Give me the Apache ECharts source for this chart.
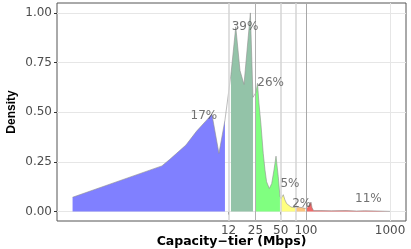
<!DOCTYPE html>
<html><head><meta charset="utf-8">
<script src="https://cdn.jsdelivr.net/npm/echarts@6/dist/echarts.min.js"></script>
<style>html,body{margin:0;padding:0;background:#fff}#c{width:411px;height:249px}</style>
</head><body><div id="c"></div>
<script>
// Tick labels
const xTicks = [12, 25, 50, 100, 1000];
const yTicks = [0, 0.25, 0.5, 0.75, 1.0];
// Tier boundaries (vertical reference lines)
const tierLines = [12, 25, 50, 75, 100];
// Density segments by tier: [Mbps, density]
const tierBelow12 = [[0.167,0.072],[1.93,0.23],[2.40,0.263],[3.73,0.335],[5.0,0.405],[6.4,0.455],[7.6,0.49],[9.21,0.293],[10.86,0.46]];
const tier12to25 = [[12.8,0.69],[14.6,0.93],[16.4,0.71],[18.3,0.64],[21.8,1.0],[23.4,0.575]];
const tier25to50 = [[25.4,0.6],[26.5,0.646],[27.5,0.55],[29.1,0.44],[31.0,0.293],[32.5,0.21],[34.0,0.15],[36.6,0.116],[39.1,0.141],[41.6,0.209],[44.0,0.279],[46.8,0.175],[49.0,0.077]];
const tier50to75 = [[50.4,0.065],[53.7,0.085],[56,0.06],[58.9,0.04],[66.3,0.023],[74,0.02]];
const tier75to100 = [[76,0.018],[82,0.022],[90,0.02],[98,0.015]];
const tierAbove100 = [[102,0.015],[108,0.03],[114.7,0.048],[118,0.02],[123,0.005],[150,0.005],[200,0.004],[300,0.005],[400,0.003],[500,0.004],[700,0.003],[1000,0.001]];
// Share labels
const pctLabels = ['17%','39%','26%','5%','2%','11%'];
const pctX = [6.1, 18.8, 38.0, 64.5, 88.9, 552];
const pctY = [0.481, 0.932, 0.646, 0.141, 0.040, 0.062];

const segments = [tierBelow12, tier12to25, tier25to50, tier50to75, tier75to100, tierAbove100];
const fills = ['#8080ff', '#93c3a8', '#80ff80', '#ffff80', '#fcc57f', '#f06868'];
const chart = echarts.init(document.getElementById('c'), null, {renderer: 'canvas'});
const series = [];
series.push({
  type: 'line', data: [], silent: true, z: 1,
  markLine: {
    silent: true, symbol: 'none', label: {show: false}, z: 1,
    lineStyle: {color: '#e6e6e6', width: 1, type: 'solid'},
    data: yTicks.map(v => ({yAxis: v})).concat([{xAxis: 1000}])
  }
});
segments.forEach((seg, i) => {
  series.push({
    type: 'line', data: seg, showSymbol: false, silent: true, z: 2,
    lineStyle: {width: 0}, areaStyle: {color: fills[i], opacity: 1, origin: 'auto'}
  });
});
series.push({
  type: 'line', data: [].concat(...segments), showSymbol: false, silent: true, z: 3,
  lineStyle: {color: '#8f8f8f', width: 0.6}
});
const lineCols = {12: '#d4d4d4', 25: '#b0b0b0', 50: '#d4d4d4', 75: '#d4d4d4', 100: '#a8a8a8'};
const lineW = {12: 1.5, 25: 1, 50: 1.5, 75: 1.5, 100: 1};
series.push({
  type: 'line', data: [], silent: true, z: 4,
  markLine: {
    silent: true, symbol: 'none', label: {show: false}, z: 4,
    data: tierLines.map(v => ({xAxis: v, lineStyle: {color: lineCols[v], width: lineW[v], type: 'solid'}}))
  }
});
series.push({
  type: 'scatter', symbolSize: 0, silent: true, z: 6,
  data: pctX.map((x, i) => [x, pctY[i]]),
  label: {show: true, position: 'inside', formatter: p => pctLabels[p.dataIndex],
    fontFamily: 'DejaVu Sans', fontSize: 12, color: '#4d4d4d'}
});
chart.setOption({
  animation: false,
  grid: {left: 57, right: 5, top: 3, bottom: 28, containLabel: false, outerBoundsMode: 'none',
    show: true, borderColor: '#555', borderWidth: 1},
  xAxis: {
    type: 'log', min: 0.109, max: 1549,
    axisLine: {show: false},
    axisTick: {show: true, length: 3, lineStyle: {color: '#333'}, customValues: xTicks},
    axisLabel: {customValues: xTicks, formatter: v => String(v), fontFamily: 'DejaVu Sans', fontSize: 12, color: '#4d4d4d', margin: 4},
    splitLine: {show: false}, minorTick: {show: false},
    name: 'Capacity\u2212tier (Mbps)', nameLocation: 'middle', nameGap: 14, nameMoveOverlap: false,
    nameTextStyle: {fontFamily: 'DejaVu Sans', fontWeight: 'bold', fontSize: 12.5, color: '#000'}
  },
  yAxis: {
    type: 'value', min: -0.0475, max: 1.05,
    axisLine: {show: false},
    axisTick: {show: true, length: 3, lineStyle: {color: '#333'}, customValues: yTicks},
    axisLabel: {customValues: yTicks, formatter: v => Number(v).toFixed(2), fontFamily: 'DejaVu Sans', fontSize: 12, color: '#4d4d4d', margin: 5},
    splitLine: {show: false},
    name: 'Density', nameLocation: 'middle', nameGap: 39, nameRotate: 90, nameMoveOverlap: false,
    nameTextStyle: {fontFamily: 'Liberation Sans', fontWeight: 'bold', fontSize: 12, color: '#000'}
  },
  series: series
});
</script></body></html>
